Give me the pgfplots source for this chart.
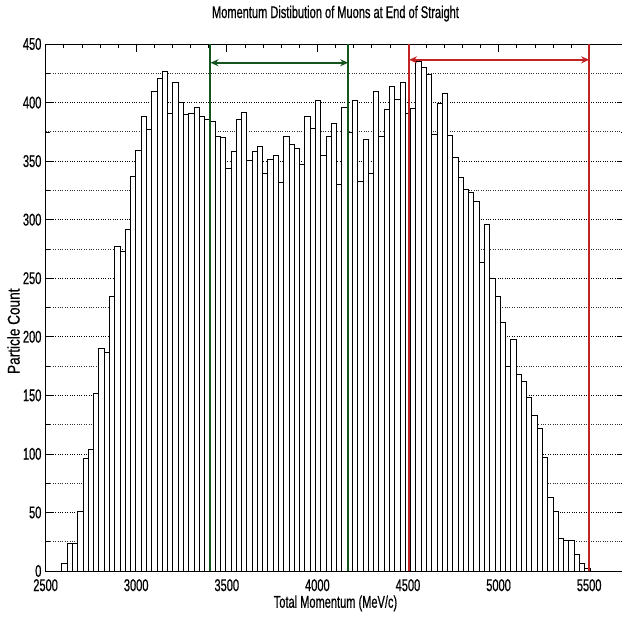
\documentclass[border=0pt]{standalone}
\usepackage{fontspec}
\setmainfont{Liberation Sans}[FakeStretch=0.65,FakeBold=0.6]
\newfontfamily\plainsans{Liberation Sans}[FakeBold=0.6]
\usepackage{pgfplots}
\pgfplotsset{compat=1.18}
\usetikzlibrary{arrows.meta}
\definecolor{mgreen}{RGB}{20,85,30}
\definecolor{mred}{RGB}{195,35,35}
\begin{document}
\fontsize{17bp}{20bp}\selectfont
\begin{tikzpicture}
\useasboundingbox (-45.6bp,-52bp) rectangle (576.4bp,571bp);
\begin{axis}[
 scale only axis, width=579.8bp, height=527bp,
 xmin=2500, xmax=5700, ymin=0, ymax=450,
 xtick={2500,3000,...,5500}, ytick={0,50,...,450},
 minor x tick num=4, minor y tick num=1,
 ymajorgrids, yminorgrids,
 major grid style={black, dotted, line width=0.7bp},
 minor grid style={black!80, dotted, line width=0.7bp},
 tick align=inside,
 major tick length=8bp, minor tick length=4bp,
 tick style={black, line width=0.6bp},
 axis line style={line width=0.8bp},
 /pgf/number format/assume math mode=true,
 /pgf/number format/1000 sep={},
 xticklabel style={inner sep=0bp, yshift=-8bp},
 yticklabel style={inner sep=4bp},
 title={Momentum Distibution of Muons at End of Straight},
 title style={at={(0.5,1)}, anchor=base, yshift=20bp},
 xlabel={Total Momentum (MeV/c)},
 xlabel style={inner sep=1bp, yshift=-3bp},
 ylabel={\scalebox{0.8}[1]{\plainsans Particle Count}},
 ylabel style={at={(ticklabel cs:0.455)}, inner sep=2bp, yshift=-3bp},
]
\addplot[ybar interval, fill=white, draw=black, line width=0.5bp] coordinates {
(2589,7) (2618,24) (2647,24) (2677,51) (2706,96) (2735,104) (2764,152) (2793,190) (2822,187) (2851,235)
(2881,277) (2910,273) (2939,292) (2968,337) (2997,359) (3026,388) (3055,377) (3085,410) (3114,421) (3143,427)
(3172,391) (3201,417) (3230,400) (3260,390) (3289,391) (3318,396) (3347,388) (3376,386) (3405,384) (3434,371)
(3464,370) (3493,344) (3522,358) (3551,386) (3580,392) (3609,351) (3638,358) (3668,363) (3697,340) (3726,352)
(3755,355) (3784,332) (3813,371) (3843,364) (3872,361) (3901,347) (3930,388) (3959,378) (3988,402) (4017,355)
(4047,371) (4076,382) (4105,330) (4134,396) (4163,375) (4192,402) (4221,333) (4251,369) (4280,340) (4309,410)
(4338,371) (4367,394) (4396,414) (4426,403) (4455,417) (4484,391) (4513,395) (4542,435) (4571,430) (4600,424)
(4630,373) (4659,399) (4688,408) (4717,372) (4746,353) (4775,336) (4804,326) (4834,323) (4863,316) (4892,264)
(4921,296) (4950,250) (4979,235) (5009,212) (5038,175) (5067,198) (5096,168) (5125,162) (5154,148) (5183,133)
(5213,122) (5242,97) (5271,63) (5300,51) (5329,28) (5358,26) (5387,26) (5417,14) (5446,7) (5475,2)
(5504,0)
};
\addplot[mgreen, line width=2bp] coordinates {(3410,0) (3410,450)};
\addplot[mgreen, line width=2bp] coordinates {(4170,0) (4170,450)};
\addplot[mred, line width=1.8bp] coordinates {(4506,0) (4506,450)};
\addplot[mred, line width=1.8bp] coordinates {(5500,0) (5500,450)};
\addplot[mgreen, line width=1.8bp, {Stealth[length=8bp,width=7bp]}-{Stealth[length=8bp,width=7bp]}] coordinates {(3410,434) (4170,434)};
\addplot[mred, line width=1.8bp, {Stealth[length=8bp,width=7bp]}-{Stealth[length=8bp,width=7bp]}] coordinates {(4506,436.5) (5500,436.5)};
\end{axis}
\end{tikzpicture}
\end{document}
